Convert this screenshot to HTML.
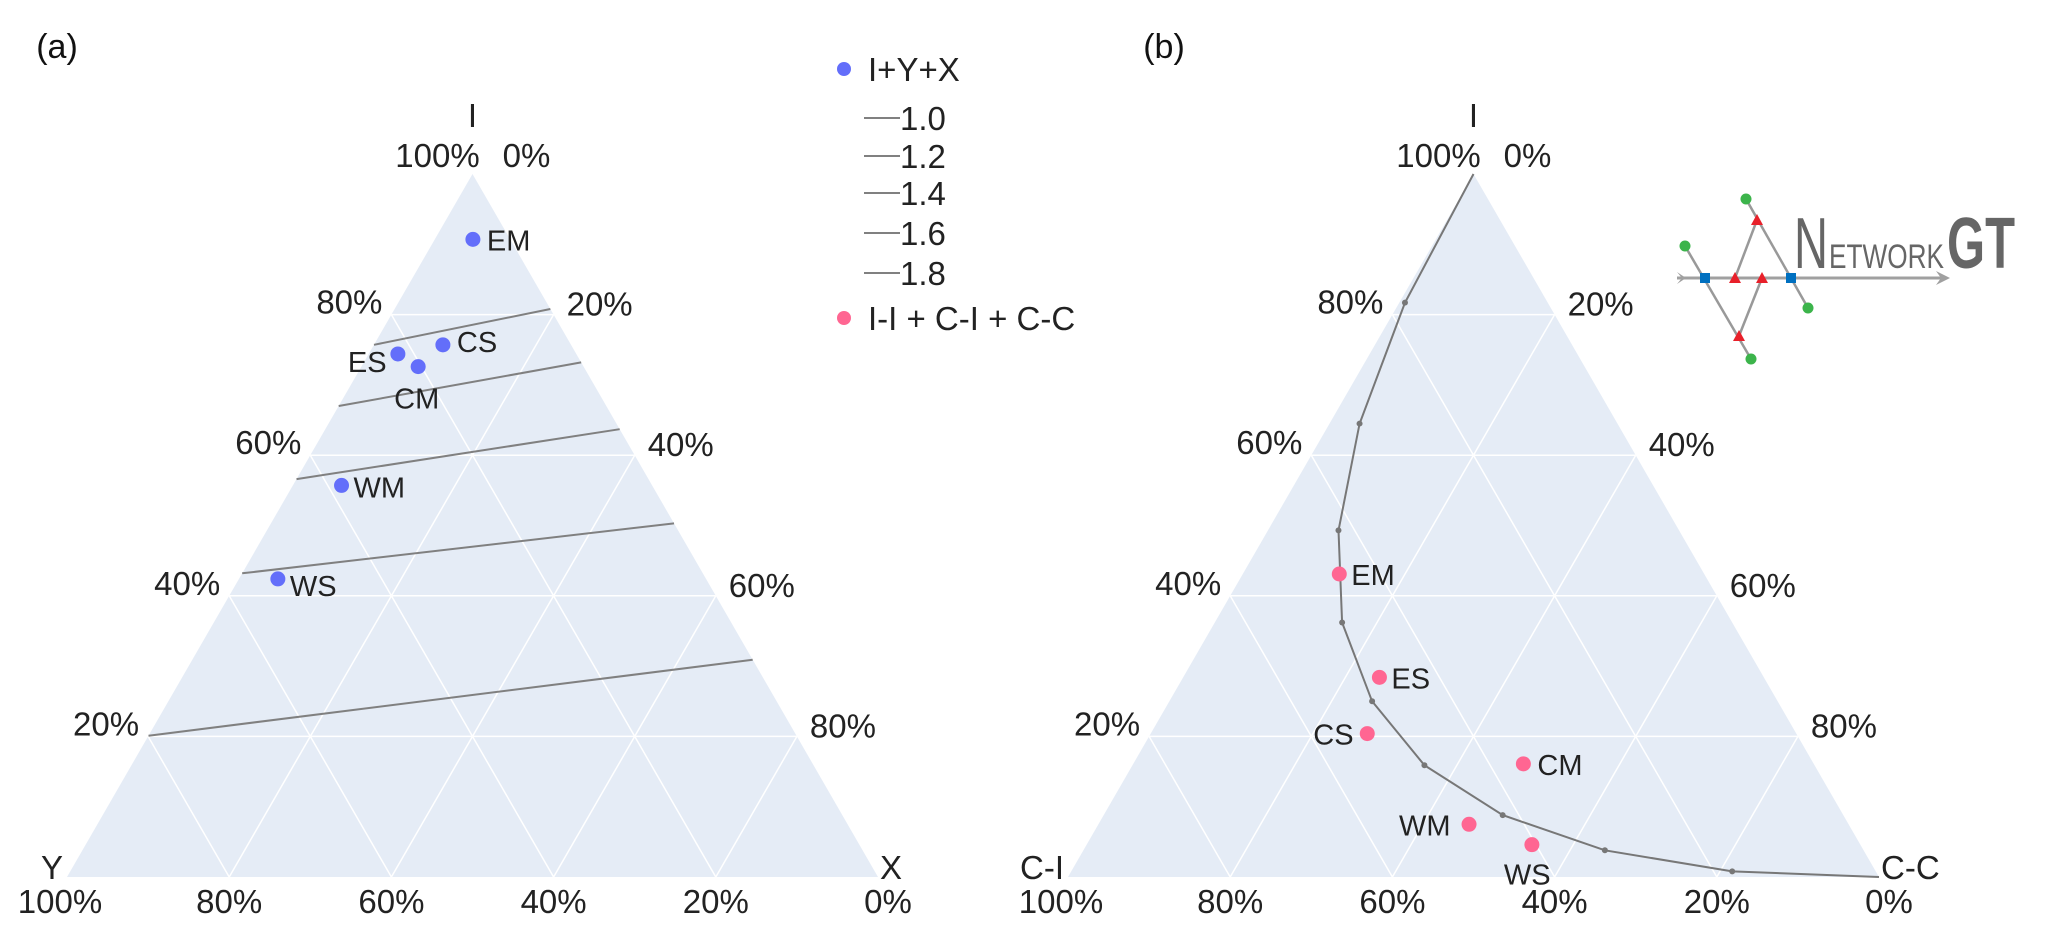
<!DOCTYPE html>
<html><head><meta charset="utf-8"><style>
html,body{margin:0;padding:0;background:#fff;overflow:hidden;}
svg{display:block;font-family:"Liberation Sans",Arial,sans-serif;}
</style></head><body>
<svg id="chart" width="2067" height="929" viewBox="0 0 2067 929" xmlns="http://www.w3.org/2000/svg">
<text x="57" y="58" font-size="34" text-anchor="middle" fill="#111">(a)</text>
<text x="1164" y="58" font-size="34" text-anchor="middle" fill="#111">(b)</text>
<g id="pa"></g>
<g id="pb"></g>
<g>
 <g><circle cx="844" cy="69" r="7" fill="#636efa"/><text x="868" y="81" font-size="33" fill="#222">I+Y+X</text></g>
 <g><line x1="864" y1="118" x2="900" y2="118" stroke="#808080" stroke-width="2"/><text x="900" y="130" font-size="33" fill="#222">1.0</text></g>
 <g><line x1="864" y1="156" x2="900" y2="156" stroke="#808080" stroke-width="2"/><text x="900" y="168" font-size="33" fill="#222">1.2</text></g>
 <g><line x1="864" y1="193" x2="900" y2="193" stroke="#808080" stroke-width="2"/><text x="900" y="205" font-size="33" fill="#222">1.4</text></g>
 <g><line x1="864" y1="233" x2="900" y2="233" stroke="#808080" stroke-width="2"/><text x="900" y="245" font-size="33" fill="#222">1.6</text></g>
 <g><line x1="864" y1="273" x2="900" y2="273" stroke="#808080" stroke-width="2"/><text x="900" y="285" font-size="33" fill="#222">1.8</text></g>
 <g><circle cx="844" cy="318" r="7" fill="#ff6692"/><text x="868" y="330" font-size="33" fill="#222">I-I + C-I + C-C</text></g>
</g>
<g>
 <line x1="1677" y1="278" x2="1946" y2="278" stroke="#a0a0a0" stroke-width="3"/>
 <path d="M1677,272 L1686,278 L1677,284 L1682,278Z" fill="#a0a0a0"/>
 <path d="M1936,271 L1950,278 L1936,285 L1941,278Z" fill="#a0a0a0"/>
 <line x1="1746" y1="199" x2="1808" y2="308" stroke="#999" stroke-width="2.5"/>
 <line x1="1757" y1="220" x2="1735" y2="278" stroke="#999" stroke-width="2.5"/>
 <line x1="1685" y1="246" x2="1751" y2="359" stroke="#999" stroke-width="2.5"/>
 <line x1="1762" y1="278" x2="1739" y2="336" stroke="#999" stroke-width="2.5"/>
 <circle cx="1746" cy="199" r="5.5" fill="#3cb44b"/>
 <circle cx="1685" cy="246" r="5.5" fill="#3cb44b"/>
 <circle cx="1808" cy="308" r="5.5" fill="#3cb44b"/>
 <circle cx="1751" cy="359" r="5.5" fill="#3cb44b"/>
 <rect x="1700" y="273" width="10" height="10" fill="#0070c0"/>
 <rect x="1786" y="273" width="10" height="10" fill="#0070c0"/>
 <path d="M1757,214 L1763,225 L1751,225Z" fill="#e8202a"/>
 <path d="M1735,272 L1741,283 L1729,283Z" fill="#e8202a"/>
 <path d="M1762,272 L1768,283 L1756,283Z" fill="#e8202a"/>
 <path d="M1739,330 L1745,341 L1733,341Z" fill="#e8202a"/>
 <text x="1794" y="268" font-size="72" fill="#666" textLength="34" lengthAdjust="spacingAndGlyphs">N</text>
 <text x="1829" y="268" font-size="34" fill="#666" textLength="115" lengthAdjust="spacingAndGlyphs">ETWORK</text>
 <text x="1947" y="268" font-size="72" fill="#666" font-weight="bold" textLength="68" lengthAdjust="spacingAndGlyphs">GT</text>
</g>
</svg>
<script>
// Panel (a) data: I, X fractions (Y = 1 - I - X)
const ptsA_names = ["EM","CS","ES","CM","WM","WS"];
const ptsA_I = [0.907,0.757,0.744,0.726,0.557,0.424];
const ptsA_X = [0.047,0.085,0.036,0.070,0.060,0.048];
// Contour lines: I at left edge (X=0) and right edge (Y=0)
const contourLevels = ["1.0","1.2","1.4","1.6","1.8"];
const contourLeftI = [0.757,0.670,0.566,0.432,0.201];
const contourRightI = [0.808,0.732,0.637,0.503,0.309];
// Panel (b) data: I, C-C fractions (C-I = 1 - I - CC)
const ptsB_names = ["EM","ES","CS","CM","WM","WS"];
const ptsB_I = [0.431,0.284,0.204,0.161,0.075,0.046];
const ptsB_CC = [0.119,0.242,0.267,0.481,0.457,0.549];
const curveI = [1,0.817,0.645,0.493,0.362,0.25,0.159,0.088,0.038,0.008,0];
const curveCC = [0,0.007,0.037,0.087,0.157,0.25,0.36,0.492,0.643,0.815,1];
const tickVals = [0,0.2,0.4,0.6,0.8,1];
const tickLabels = ["0%","20%","40%","60%","80%","100%"];

const NS="http://www.w3.org/2000/svg";
function mk(parent,tag,attrs,txt){const e=document.createElementNS(NS,tag);for(const k in attrs)e.setAttribute(k,attrs[k]);if(txt!==undefined)e.textContent=txt;parent.appendChild(e);return e;}

const TOPY=174, BASEY=877, W=811;
function panel(g,L,names){
  const top=[L+W/2,TOPY], bl=[L,BASEY], br=[L+W,BASEY];
  const P=(I,R)=>{const Lf=1-I-R;return [top[0]*I+br[0]*R+bl[0]*Lf, top[1]*I+br[1]*R+bl[1]*Lf];};
  const bg=mk(g,'path',{d:`M${top}L${bl}L${br}Z`,fill:'#e5ecf6'});
  
  
  [0.2,0.4,0.6,0.8].forEach(v=>{
    let a=P(v,0),b=P(v,1-v); mk(g,'line',{x1:a[0],y1:a[1],x2:b[0],y2:b[1],stroke:'#fff','stroke-width':1.5});
    a=P(0,v);b=P(1-v,v); mk(g,'line',{x1:a[0],y1:a[1],x2:b[0],y2:b[1],stroke:'#fff','stroke-width':1.5});
    a=P(0,1-v);b=P(1-v,0); mk(g,'line',{x1:a[0],y1:a[1],x2:b[0],y2:b[1],stroke:'#fff','stroke-width':1.5});
  });
  const fs=33, ta={'font-size':fs,fill:'#222'};
  let t=mk(g,'text',Object.assign({x:top[0],y:127,'text-anchor':'middle'},ta),'I');
  
  
  mk(g,'text',Object.assign({x:top[0]-35,y:167,'text-anchor':'middle'},ta),tickLabels[5]);
  mk(g,'text',Object.assign({x:top[0]+54,y:167,'text-anchor':'middle'},ta),tickLabels[0]);
  for(let i=1;i<=4;i++){
    const v=tickVals[i];
    let p=P(v,0);
    const lt=mk(g,'text',Object.assign({x:p[0]-9,y:p[1]-1,'text-anchor':'end'},ta),tickLabels[i]);
    
    
    p=P(1-v,v);
    const rt=mk(g,'text',Object.assign({x:p[0]+13,y:p[1]+1,'text-anchor':'start'},ta),tickLabels[i]);
    
    
  }
  for(let i=0;i<=5;i++){
    const v=tickVals[i];
    const p=P(0,1-v);
    let dx= i==5?-7:(i==0?10:0);
    const bt=mk(g,'text',Object.assign({x:p[0]+dx,y:913,'text-anchor':'middle'},ta),tickLabels[i]);
    
    
  }
  let lt=mk(g,'text',Object.assign({x:bl[0]-4,y:879,'text-anchor':'end'},ta),names[0]);
  
  
  let rt=mk(g,'text',Object.assign({x:br[0]+2,y:879,'text-anchor':'start'},ta),names[1]);
  
  
  return P;
}

const ga=document.getElementById('pa'), gb=document.getElementById('pb');
const PA=panel(ga,67,["Y","X"]);
const PB=panel(gb,1068,["C-I","C-C"]);

contourLevels.forEach((lv,i)=>{
  const a=PA(contourLeftI[i],0), b=PA(contourRightI[i],1-contourRightI[i]);
  const l=mk(ga,'line',{x1:a[0],y1:a[1],x2:b[0],y2:b[1],stroke:'#808080','stroke-width':2});
  
  
});
const offA={EM:[14,11],CS:[14,7],ES:[-50,18],CM:[-24,42],WM:[12,12],WS:[12,17]};
ptsA_names.forEach((n,i)=>{
  const p=PA(ptsA_I[i],ptsA_X[i]);
  const c=mk(ga,'circle',{cx:p[0],cy:p[1],r:7.5,fill:'#636efa'});
  
  
  const o=offA[n];
  mk(ga,'text',{x:p[0]+o[0],y:p[1]+o[1],'font-size':29,fill:'#222'},n);
});
let d='';
curveI.forEach((v,i)=>{const p=PB(v,curveCC[i]);d+=(i?'L':'M')+p[0].toFixed(1)+','+p[1].toFixed(1);});
const cv=mk(gb,'path',{d:d,fill:'none',stroke:'#777','stroke-width':2});


curveI.forEach((v,i)=>{if(i==0||i==curveI.length-1)return;const p=PB(v,curveCC[i]);
  const m=mk(gb,'circle',{cx:p[0],cy:p[1],r:3,fill:'#777'});
  
  
});
const offB={EM:[12,11],ES:[12,11],CS:[-54,11],CM:[14,11],WM:[-70,11],WS:[-28,40]};
ptsB_names.forEach((n,i)=>{
  const p=PB(ptsB_I[i],ptsB_CC[i]);
  const c=mk(gb,'circle',{cx:p[0],cy:p[1],r:7.5,fill:'#ff6692'});
  
  
  const o=offB[n];
  mk(gb,'text',{x:p[0]+o[0],y:p[1]+o[1],'font-size':29,fill:'#222'},n);
});
</script>
</body></html>
